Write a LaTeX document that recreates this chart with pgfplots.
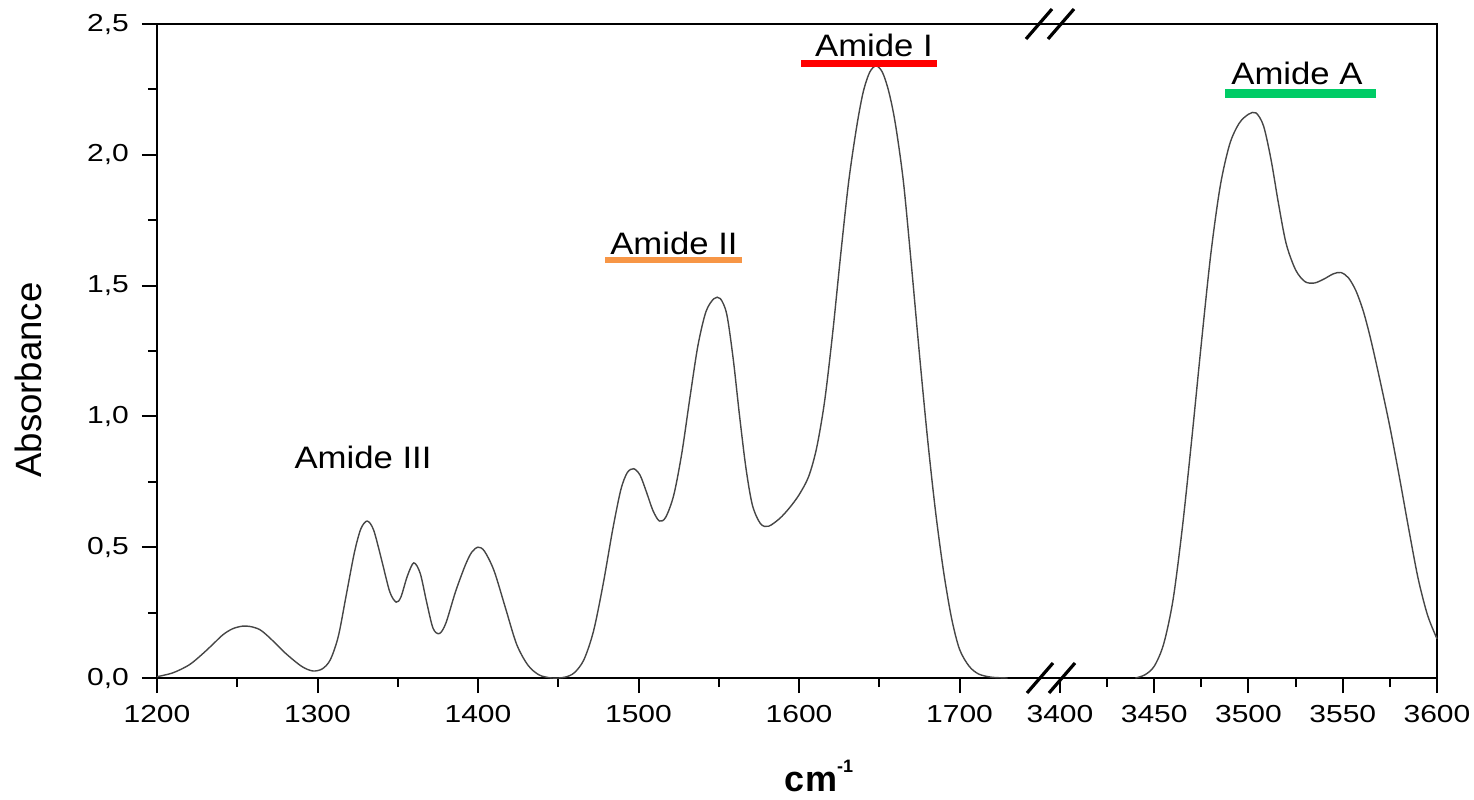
\documentclass[border=0pt]{standalone}
\usepackage{pgfplots}
\pgfplotsset{compat=1.18}
\usepackage{pgfplotstable}
\usepackage{fontspec}
\setmainfont{Liberation Sans}
\newfontfamily\tickfont{Liberation Sans}[FakeStretch=1.22]
\newfontfamily\annfont{Liberation Sans}[FakeStretch=1.12]
\definecolor{amI}{RGB}{255,0,0}
\definecolor{amII}{RGB}{247,150,70}
\definecolor{amA}{RGB}{0,204,102}
\definecolor{curve}{RGB}{70,70,70}

\pgfplotstableread{
x y
1200 0.005
1210 0.02
1220 0.05
1228 0.09
1235 0.13
1241 0.165
1247 0.188
1253 0.198
1258 0.197
1264 0.185
1270 0.155
1280 0.095
1290 0.045
1297 0.027
1303 0.035
1308 0.07
1313 0.16
1318 0.32
1323 0.48
1327 0.57
1331 0.60
1335 0.565
1340 0.45
1345 0.33
1349 0.29
1352 0.31
1356 0.39
1360 0.44
1364 0.40
1368 0.29
1372 0.19
1376 0.17
1380 0.21
1386 0.33
1392 0.43
1396 0.48
1400 0.50
1404 0.485
1410 0.41
1417 0.27
1424 0.13
1431 0.05
1438 0.012
1446 0.0
1454 0.003
1460 0.02
1466 0.07
1472 0.18
1478 0.36
1484 0.57
1489 0.72
1493 0.785
1497 0.80
1501 0.775
1505 0.71
1509 0.64
1513 0.60
1517 0.615
1522 0.70
1527 0.86
1532 1.07
1537 1.27
1542 1.40
1547 1.45
1551 1.45
1555 1.39
1559 1.22
1563 1.00
1567 0.80
1571 0.66
1576 0.59
1581 0.58
1588 0.61
1594 0.65
1600 0.70
1606 0.77
1611 0.88
1616 1.06
1621 1.32
1626 1.62
1631 1.90
1636 2.11
1640 2.24
1644 2.315
1648 2.34
1652 2.315
1656 2.24
1660 2.12
1665 1.90
1670 1.58
1675 1.24
1680 0.92
1685 0.64
1690 0.41
1695 0.23
1700 0.11
1706 0.045
1712 0.015
1720 0.003
1730 0.0
}\leftdata

\pgfplotstableread{
x y
3440 0.0
3445 0.012
3450 0.045
3455 0.13
3460 0.30
3465 0.58
3470 0.92
3475 1.28
3480 1.62
3485 1.88
3490 2.04
3495 2.12
3500 2.155
3504 2.16
3508 2.11
3512 1.98
3516 1.81
3520 1.66
3525 1.56
3530 1.515
3535 1.51
3540 1.525
3545 1.545
3549 1.55
3553 1.53
3557 1.48
3561 1.40
3565 1.29
3570 1.13
3575 0.96
3580 0.77
3585 0.57
3590 0.38
3595 0.24
3600 0.15
}\rightdata

\begin{document}
\begin{tikzpicture}
\useasboundingbox (-78.5pt,-60.5pt) rectangle (658.5pt,339pt);
\begin{axis}[
  at={(0pt,0pt)}, anchor=south west,
  scale only axis, width=640pt, height=327pt,
  xmin=1200, xmax=1997.5, ymin=0, ymax=2.5,
  axis line style={line width=1pt},
  tick pos=left, tick align=outside,
  major tick length=7.5pt, minor tick length=4.5pt,
  every tick/.style={black, line width=1pt},
  xtick={1200,1300,1400,1500,1600,1700,1762.6,1821.3,1880.05,1938.8,1997.5},
  xticklabels={1200,1300,1400,1500,1600,1700,3400,3450,3500,3550,3600},
  minor xtick={1250,1350,1450,1550,1650,1791.96,1850.7,1909.4,1968.1},
  ytick={0,0.5,1,1.5,2,2.5},
  minor ytick={0.25,0.75,1.25,1.75,2.25},
  yticklabel style={xshift=-3pt, /pgf/number format/.cd, use comma, fixed, fixed zerofill, precision=1, assume math mode=true},
  xticklabel style={yshift=-2.5pt},
  ticklabel style={font=\tickfont\fontsize{12.3}{14}\selectfont},
  clip=false,
]
\addplot[curve, line width=0.7pt, smooth, tension=0.5] table[x index=0, y index=1] {\leftdata};
\addplot[curve, line width=0.7pt, smooth, tension=0.5] table[x expr={1762.6+(\thisrowno{0}-3400)*1.1745}, y index=1] {\rightdata};
\end{axis}
% axis break marks
\draw[line width=1.6pt] (435pt,-7.5pt) -- (448pt,7.5pt);
\draw[line width=1.6pt] (446pt,-7.5pt) -- (459pt,7.5pt);
\draw[line width=1.6pt] (434.5pt,319.5pt) -- (447.5pt,334.5pt);
\draw[line width=1.6pt] (445.5pt,319.5pt) -- (458.5pt,334.5pt);
% annotation bars
\fill[amI] (322pt,305.5pt) rectangle (390pt,308.8pt);
\fill[amII] (224pt,207.5pt) rectangle (292.5pt,210.5pt);
\fill[amA] (534pt,290pt) rectangle (609.5pt,294.5pt);
% annotation texts
\node[anchor=base, inner sep=0pt, font=\annfont\fontsize{15.5}{18}\selectfont] at (358.5pt,310.5pt) {Amide I};
\node[anchor=base, inner sep=0pt, font=\annfont\fontsize{15.5}{18}\selectfont] at (258.5pt,211.5pt) {Amide II};
\node[anchor=base, inner sep=0pt, font=\annfont\fontsize{15.5}{18}\selectfont] at (103pt,105pt) {Amide III};
\node[anchor=base, inner sep=0pt, font=\annfont\fontsize{15.5}{18}\selectfont] at (570pt,296.5pt) {Amide A};
% axis labels
\node[anchor=base, inner sep=0pt, font=\fontsize{18}{20}\selectfont] at (331pt,-56.5pt) {\textbf{cm}\raisebox{9.5pt}{\fontsize{9}{10}\selectfont\textbf{-1}}};
\node[anchor=base, inner sep=0pt, rotate=90, font=\fontsize{18.3}{20}\selectfont] at (-57.5pt,149pt) {Absorbance};
\end{tikzpicture}
\end{document}
